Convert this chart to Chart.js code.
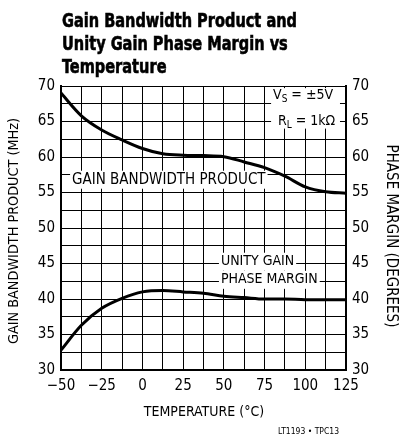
<!DOCTYPE html>
<html>
<head>
<meta charset="utf-8">
<script src="https://cdn.jsdelivr.net/npm/chart.js@4/dist/chart.umd.min.js"></script>
<style>
  html, body { margin: 0; padding: 0; background: #fff; }
  #wrap { width: 401px; height: 441px; position: relative; }
</style>
</head>
<body>
<div id="wrap"><canvas id="chartGbw"></canvas></div>
<script>
// temperatures (°C) at which the curves were read
var temps = [-50, -37.5, -25, -12.5, 0, 12.5, 25, 37.5, 50, 62.5, 75, 87.5, 100, 112.5, 125];
// gain bandwidth product (MHz), left axis
var gbw = [69, 65.8, 63.8, 62.4, 61.2, 60.45, 60.25, 60.2, 60.05, 59.3, 58.5, 57.3, 55.8, 55.1, 54.9];
// unity gain phase margin (degrees), right axis
var phase = [32.8, 36.3, 38.7, 40.1, 41.0, 41.2, 41.0, 40.8, 40.4, 40.2, 40.0, 40.0, 39.9, 39.9, 39.9];

var xTickLabels = ['\u221250', '\u221225', '0', '25', '50', '75', '100', '125'];
var yTickLabels = ['30', '35', '40', '45', '50', '55', '60', '65', '70'];

var FONT = '"DejaVu Sans Condensed", "Liberation Sans", sans-serif';

function pairs(xs, ys) {
    var out = [];
    for (var i = 0; i < xs.length; i++) out.push({ x: xs[i], y: ys[i] });
    return out;
}

// text label with a white box behind it (box drawn before the curves)
var plotLabels = [
    { text: 'GAIN BANDWIDTH PRODUCT', x: -43.2, y: 56.8, size: 15 },
    { text: 'UNITY GAIN', x: 48.2, y: 45.25, size: 14 },
    { text: 'PHASE MARGIN', x: 48.2, y: 42.7, size: 14 }
];

function sub(c, x, y, main, small, rest) {
    c.font = '14px ' + FONT;
    c.fillText(main, x, y);
    var w = c.measureText(main).width;
    c.font = '10px ' + FONT;
    c.fillText(small, x + w, y + 4);
    var w2 = c.measureText(small).width;
    c.font = '14px ' + FONT;
    c.fillText(rest, x + w + w2, y);
}

var notes = {
    id: 'notes',
    beforeDatasetsDraw: function (chart) {
        var c = chart.ctx, x = chart.scales.x, y = chart.scales.y;
        c.save();
        c.fillStyle = '#fff';
        plotLabels.forEach(function (l) {
            c.font = l.size + 'px ' + FONT;
            var w = c.measureText(l.text).width;
            var px = x.getPixelForValue(l.x), py = y.getPixelForValue(l.y);
            c.fillRect(px - 2, py - 9, w + 4, 18);
        });
        var x0 = x.getPixelForValue(79), x1 = x.getPixelForValue(121.3);
        var y0 = y.getPixelForValue(69.7), y1 = y.getPixelForValue(64);
        c.fillRect(x0, y0, x1 - x0, y1 - y0);
        c.restore();
    },
    afterDraw: function (chart) {
        var c = chart.ctx, x = chart.scales.x, y = chart.scales.y;
        c.save();
        c.fillStyle = '#000';
        c.strokeStyle = '#000';

        // title, squeezed to a condensed look
        var titleLines = ['Gain Bandwidth Product and', 'Unity Gain Phase Margin vs', 'Temperature'];
        c.font = 'bold 20px ' + FONT;
        c.textAlign = 'left';
        c.textBaseline = 'alphabetic';
        c.lineWidth = 0.6;
        var k = 235 / c.measureText(titleLines[0]).width;
        for (var i = 0; i < titleLines.length; i++) {
            c.save();
            c.translate(62, 27 + i * 23);
            c.scale(k, 1);
            c.fillText(titleLines[i], 0, 0);
            c.strokeText(titleLines[i], 0, 0);
            c.restore();
        }

        // in-plot labels
        c.textBaseline = 'middle';
        plotLabels.forEach(function (l) {
            c.font = l.size + 'px ' + FONT;
            c.fillText(l.text, x.getPixelForValue(l.x), y.getPixelForValue(l.y));
        });
        sub(c, x.getPixelForValue(80.2), y.getPixelForValue(68.7), 'V', 'S', ' = \u00b15V');
        sub(c, x.getPixelForValue(83.2), y.getPixelForValue(65.0), 'R', 'L', ' = 1k\u03a9');

        // axis titles
        c.textAlign = 'center';
        c.save();
        c.font = '14.3px ' + FONT;
        c.translate(14, 231);
        c.rotate(-Math.PI / 2);
        c.fillText('GAIN BANDWIDTH PRODUCT (MHz)', 0, 0);
        c.restore();
        c.save();
        c.font = '15px ' + FONT;
        c.translate(391, 236);
        c.rotate(Math.PI / 2);
        c.fillText('PHASE MARGIN (DEGREES)', 0, 0);
        c.restore();

        c.font = '14px ' + FONT;
        c.fillText('TEMPERATURE (\u00b0C)', 204, 412);

        c.font = '8.5px ' + FONT;
        c.textAlign = 'right';
        c.fillText('LT1193 \u2022 TPC13', 339, 432);
        c.restore();
    }
};

var ctx = document.getElementById('chartGbw').getContext('2d');
var chart = new Chart(ctx, {
    type: 'line',
    data: {
        datasets: [{
            label: 'Gain Bandwidth Product',
            data: pairs(temps, gbw),
            yAxisID: 'y',
            borderColor: '#000',
            borderWidth: 3,
            pointRadius: 0,
            cubicInterpolationMode: 'monotone'
        }, {
            label: 'Unity Gain Phase Margin',
            data: pairs(temps, phase),
            yAxisID: 'y2',
            borderColor: '#000',
            borderWidth: 3,
            pointRadius: 0,
            cubicInterpolationMode: 'monotone'
        }]
    },
    options: {
        responsive: true,
        maintainAspectRatio: false,
        animation: false,
        layout: { padding: { top: 86, left: 0, right: 0, bottom: 0 } },
        plugins: { legend: { display: false }, tooltip: { enabled: false } },
        scales: {
            x: {
                type: 'linear', min: -50, max: 125,
                afterFit: function (s) { s.height = 71; },
                afterBuildTicks: function (s) {
                    s.ticks = [];
                    for (var v = -50; v <= 125; v += 12.5) s.ticks.push({ value: v });
                },
                ticks: {
                    autoSkip: false, maxRotation: 0, padding: 7, color: '#000',
                    font: { family: FONT, size: 15 },
                    callback: function (v) { return v % 25 === 0 ? xTickLabels[(v + 50) / 25] : ''; }
                },
                grid: { color: '#000', lineWidth: 1, drawTicks: false },
                border: { color: '#000', width: 2 }
            },
            y: {
                position: 'left', min: 30, max: 70,
                afterFit: function (s) { s.width = 61; },
                ticks: {
                    stepSize: 2.5, autoSkip: false, padding: 6, color: '#000',
                    font: { family: FONT, size: 15 },
                    callback: function (v) { return v % 5 === 0 ? yTickLabels[(v - 30) / 5] : ''; }
                },
                grid: { color: '#000', lineWidth: 1, drawTicks: false },
                border: { color: '#000', width: 2 }
            },
            y2: {
                position: 'right', min: 30, max: 70,
                afterFit: function (s) { s.width = 55; },
                ticks: {
                    stepSize: 2.5, autoSkip: false, padding: 6, color: '#000',
                    font: { family: FONT, size: 15 },
                    callback: function (v) { return v % 5 === 0 ? yTickLabels[(v - 30) / 5] : ''; }
                },
                grid: { drawOnChartArea: false, drawTicks: false },
                border: { color: '#000', width: 2 }
            }
        }
    },
    plugins: [notes]
});
</script>
</body>
</html>
